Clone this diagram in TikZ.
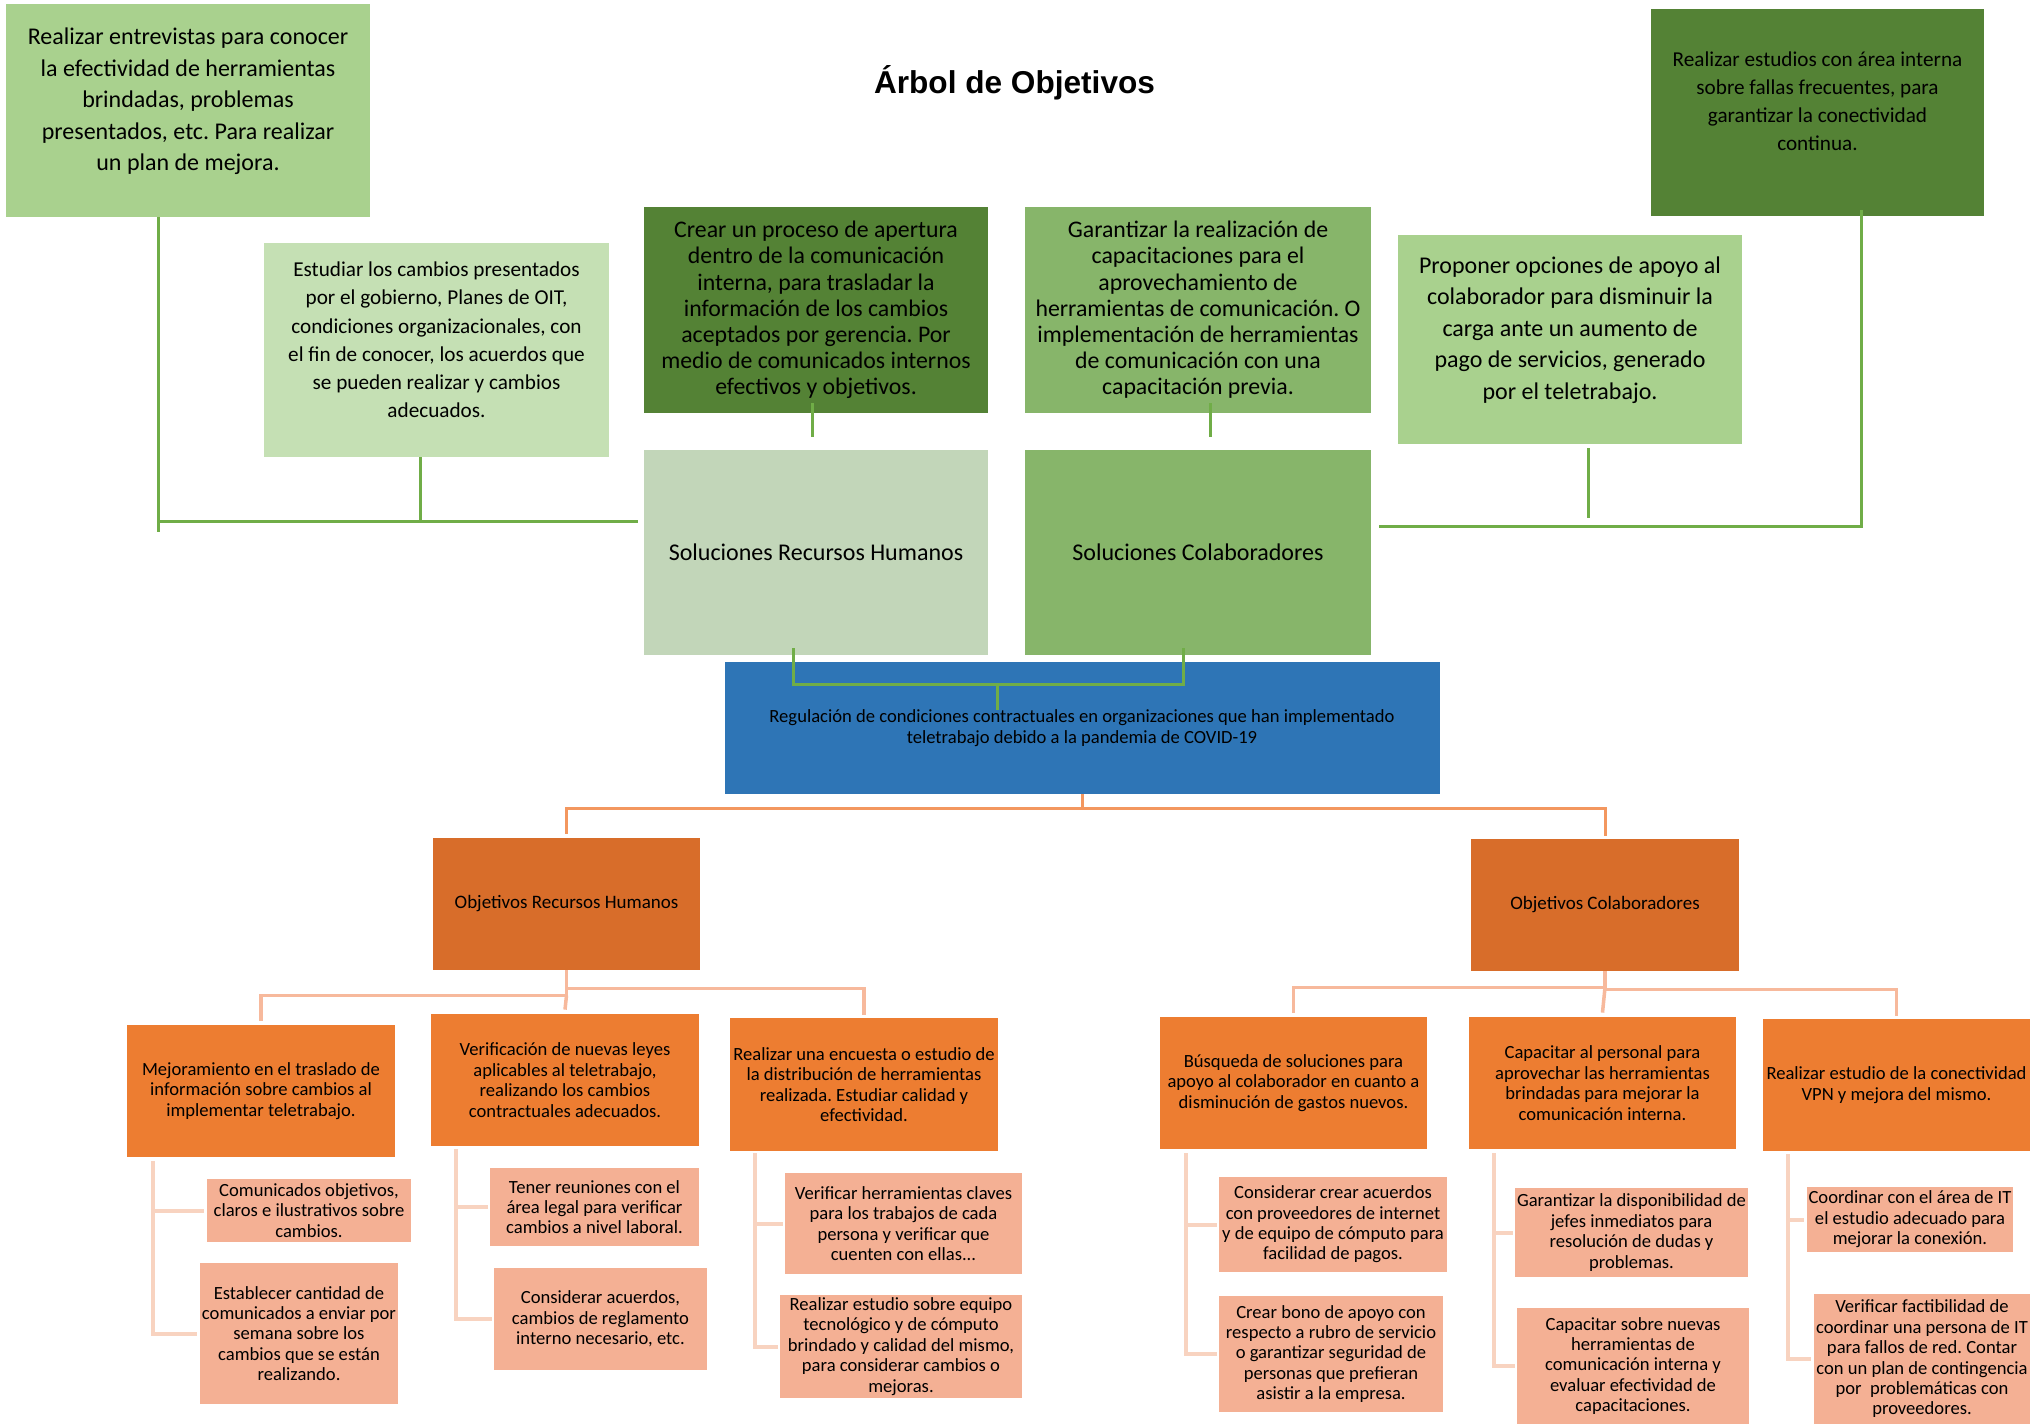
\documentclass[tikz,border=0pt]{standalone}
\usepackage{fontspec}
\setmainfont{Carlito}
\newfontfamily\titlefont{Liberation Sans}
\frenchspacing
\definecolor{leafLight}{HTML}{A9D18E}
\definecolor{leafPale}{HTML}{C5E0B4}
\definecolor{leafDark}{HTML}{548235}
\definecolor{leafMid}{HTML}{87B56A}
\definecolor{leafGrey}{HTML}{C2D6B9}
\definecolor{goalBlue}{HTML}{2E75B6}
\definecolor{objDark}{HTML}{D86D2A}
\definecolor{objMid}{HTML}{ED7D31}
\definecolor{objPale}{HTML}{F4B094}
\definecolor{lineGreen}{HTML}{70AD47}
\definecolor{lineTop}{HTML}{F3975F}
\definecolor{lineMid}{HTML}{F7B99C}
\definecolor{lineLow}{HTML}{F8D3C0}

\begin{document}
\begin{tikzpicture}[x=0.5pt,y=-0.5pt,
  box/.style={inner sep=0pt,align=center},
  bigtext/.style={box,font=\fontsize{12}{15.75}\selectfont},
  midtext/.style={box,font=\fontsize{10.6}{14.1}\selectfont},
  solidtext/.style={box,font=\fontsize{11.9}{13.1}\selectfont},
  smalltext/.style={box,font=\fontsize{9.3}{10.2}\selectfont},
  greenline/.style={draw=lineGreen,line width=1.5pt},
  topline/.style={draw=lineTop,line width=1.5pt},
  midline/.style={draw=lineMid,line width=1.75pt},
  lowline/.style={draw=lineLow,line width=2pt}]
\fill[white] (0,0) rectangle (2034,1426);
\useasboundingbox (0,0) rectangle (2034,1426);

\node[font=\titlefont\bfseries\fontsize{15.8}{19}\selectfont, anchor=base] (title) at (1014.5,93) {Árbol de Objetivos};

% soluciones (arriba)
\node[box, fill=leafLight, minimum width=182pt, minimum height=106.5pt] (objA) at (188,110.5) {};
\node[bigtext] (objAtext) at ([yshift=4.5pt]objA.center) {Realizar entrevistas para conocer\\la efectividad de herramientas\\brindadas, problemas\\presentados, etc. Para realizar\\un plan de mejora.};
\node[box, fill=leafDark, minimum width=166.5pt, minimum height=103.5pt] (objTR) at (1817.5,112.5) {};
\node[midtext] (objTRtext) at ([yshift=5.6pt]objTR.center) {Realizar estudios con área interna\\sobre fallas frecuentes, para\\garantizar la conectividad\\continua.};
\node[box, fill=leafPale, minimum width=172.5pt, minimum height=107pt] (objB) at (436.5,350) {};
\node[midtext] (objBtext) at ([yshift=5pt]objB.center) {Estudiar los cambios presentados\\por el gobierno, Planes de OIT,\\condiciones organizacionales, con\\el fin de conocer, los acuerdos que\\se pueden realizar y cambios\\adecuados.};
\node[solidtext, fill=leafDark, minimum width=172pt, minimum height=103pt] (objC) at (816,310) {Crear un proceso de apertura\\dentro de la comunicación\\interna, para trasladar la\\información de los cambios\\aceptados por gerencia. Por\\medio de comunicados internos\\efectivos y objetivos.};
\node[solidtext, fill=leafMid, minimum width=173pt, minimum height=103pt] (objD) at (1198,310) {Garantizar la realización de\\capacitaciones para el\\aprovechamiento de\\herramientas de comunicación. O\\implementación de herramientas\\de comunicación con una\\capacitación previa.};
\node[box, fill=leafLight, minimum width=172pt, minimum height=104.5pt] (objE) at (1570,339.5) {};
\node[bigtext] (objEtext) at ([yshift=4.75pt]objE.center) {Proponer opciones de apoyo al\\colaborador para disminuir la\\carga ante un aumento de\\pago de servicios, generado\\por el teletrabajo.};
\node[bigtext, fill=leafGrey, minimum width=172pt, minimum height=102.5pt] (solRH) at (816,552.5) {Soluciones Recursos Humanos};
\node[bigtext, fill=leafMid, minimum width=173pt, minimum height=102.5pt] (solCol) at (1198,552.5) {Soluciones Colaboradores};

% problema central
\node[smalltext, fill=goalBlue, minimum width=357.5pt, minimum height=66pt] (goal) at (1082,728) {Regulación de condiciones contractuales en organizaciones que han implementado\\teletrabajo debido a la pandemia de COVID-19};

% objetivos
\node[box, font=\fontsize{9.5}{10.4}\selectfont, fill=objDark, minimum width=133.5pt, minimum height=66pt] (objRH) at (566.5,904) {Objetivos Recursos Humanos};
\node[box, font=\fontsize{9.5}{10.4}\selectfont, fill=objDark, minimum width=134pt, minimum height=66pt] (objCol) at (1605,905) {Objetivos Colaboradores};

\node[smalltext, fill=objMid, minimum width=134pt, minimum height=66pt] (rh1) at (261,1091) {Mejoramiento en el traslado de\\información sobre cambios al\\implementar teletrabajo.};
\node[smalltext, fill=objMid, minimum width=134pt, minimum height=66pt] (rh2) at (565,1080) {Verificación de nuevas leyes\\aplicables al teletrabajo,\\realizando los cambios\\contractuales adecuados.};
\node[smalltext, fill=objMid, minimum width=134pt, minimum height=66.5pt] (rh3) at (864,1084.5) {Realizar una encuesta o estudio de\\la distribución de herramientas\\realizada. Estudiar calidad y\\efectividad.};
\node[smalltext, fill=objMid, minimum width=133.5pt, minimum height=66pt] (col1) at (1293.5,1083) {Búsqueda de soluciones para\\apoyo al colaborador en cuanto a\\disminución de gastos nuevos.};
\node[smalltext, fill=objMid, minimum width=133.5pt, minimum height=66pt] (col2) at (1602.5,1083) {Capacitar al personal para\\aprovechar las herramientas\\brindadas para mejorar la\\comunicación interna.};
\node[smalltext, fill=objMid, minimum width=133.5pt, minimum height=66pt] (col3) at (1896.5,1085) {Realizar estudio de la conectividad\\VPN y mejora del mismo.};

% acciones
\node[smalltext, fill=objPale, minimum width=102pt, minimum height=31.5pt] (rh1a) at (309,1210.5) {Comunicados objetivos,\\claros e ilustrativos sobre\\cambios.};
\node[smalltext, fill=objPale, minimum width=99pt, minimum height=70.5pt] (rh1b) at (299,1333.5) {Establecer cantidad de\\comunicados a enviar por\\semana sobre los\\cambios que se están\\realizando.};
\node[smalltext, fill=objPale, minimum width=104.5pt, minimum height=39pt] (rh2a) at (594.5,1207) {Tener reuniones con el\\área legal para verificar\\cambios a nivel laboral.};
\node[smalltext, fill=objPale, minimum width=106.5pt, minimum height=51pt] (rh2b) at (600.5,1319) {Considerar acuerdos,\\cambios de reglamento\\interno necesario, etc.};
\node[smalltext, fill=objPale, minimum width=118.5pt, minimum height=50.5pt] (rh3a) at (903.5,1223.5) {Verificar herramientas claves\\para los trabajos de cada\\persona y verificar que\\cuenten con ellas...};
\node[smalltext, fill=objPale, minimum width=121pt, minimum height=51.5pt] (rh3b) at (901,1346.5) {Realizar estudio sobre equipo\\tecnológico y de cómputo\\brindado y calidad del mismo,\\para considerar cambios o\\mejoras.};
\node[smalltext, fill=objPale, minimum width=114pt, minimum height=47.5pt] (col1a) at (1333,1224.5) {Considerar crear acuerdos\\con proveedores de internet\\y de equipo de cómputo para\\facilidad de pagos.};
\node[smalltext, fill=objPale, minimum width=112pt, minimum height=58pt] (col1b) at (1331,1354) {Crear bono de apoyo con\\respecto a rubro de servicio\\o garantizar seguridad de\\personas que prefieran\\asistir a la empresa.};
\node[smalltext, fill=objPale, minimum width=116.5pt, minimum height=44.5pt] (col2a) at (1631.5,1232.5) {Garantizar la disponibilidad de\\jefes inmediatos para\\resolución de dudas y\\problemas.};
\node[smalltext, fill=objPale, minimum width=116pt, minimum height=58pt] (col2b) at (1633,1366) {Capacitar sobre nuevas\\herramientas de\\comunicación interna y\\evaluar efectividad de\\capacitaciones.};
\node[smalltext, fill=objPale, minimum width=103pt, minimum height=32.5pt] (col3a) at (1910,1219.5) {Coordinar con el área de IT\\el estudio adecuado para\\mejorar la conexión.};
\node[smalltext, fill=objPale, minimum width=108pt, minimum height=65pt] (col3b) at (1922,1359) {Verificar factibilidad de\\coordinar una persona de IT\\para fallos de red. Contar\\con un plan de contingencia\\por\ \ problemáticas con\\proveedores.};

% lineas verdes
\coordinate (gL) at (158,521);
\coordinate (gR) at (1861,526);
\coordinate (gB) at (997,684);
\draw[greenline] (objA.south -| gL) -- ++(0,315);
\draw[greenline] (gL) -- ([xshift=-3pt]solRH.west |- gL);
\draw[greenline] ([xshift=-8pt]objB.south) -- ([xshift=-8pt]objB.south |- gL);
\draw[greenline] ([xshift=-2pt,yshift=5pt]objC.south) -- ([xshift=-2pt,yshift=6.5pt]solRH.north);
\draw[greenline] ([xshift=6pt,yshift=5pt]objD.south) -- ([xshift=6pt,yshift=6.5pt]solCol.north);
\draw[greenline] ([xshift=4pt]solCol.east |- gR) -- (gR);
\draw[greenline] ([yshift=3pt]objTR.south -| gR) -- ([yshift=-1pt]gR);
\draw[greenline] ([xshift=9pt,yshift=-2pt]objE.south) -- ++(0,70);
\draw[greenline] ([xshift=-11.5pt,yshift=3.5pt]solRH.south) |- (gB) -| ([xshift=-7.5pt,yshift=3.5pt]solCol.south);
\draw[greenline] (gB) -- ++(0,26);

% lineas naranjas
\draw[topline] (goal.south) -- ++(0,14) -| ([yshift=2pt]objRH.north);
\draw[topline] (goal.south) ++(0,14) -| ([yshift=1.5pt]objCol.north);
\draw[midline] (objRH.south) -- ++(0,25) -| ([yshift=2pt]rh1.north);
\draw[midline] (objRH.south) ++(0,18) -| ([yshift=1.5pt]rh3.north);
\draw[midline] (objRH.south) ++(0,25) -- ([yshift=2pt]rh2.north);
\draw[midline] (objCol.south) -- ++(0,16) -| ([yshift=2pt]col1.north);
\draw[midline] (objCol.south) ++(0,18) -| ([yshift=1.5pt]col3.north);
\draw[midline] (objCol.south) ++(0,16) -- ([yshift=2pt]col2.north);

% llaves de acciones
\coordinate (rh1v) at (153,1161);
\coordinate (rh2v) at (456,1149);
\coordinate (rh3v) at (754.5,1153);
\coordinate (col1v) at (1185.5,1153);
\coordinate (col2v) at (1494,1153);
\coordinate (col3v) at (1788,1154);
\draw[lowline] (rh1v) |- ([xshift=-1.5pt]rh1b.west);
\draw[lowline] (rh1v |- rh1a.west) -- ([xshift=-1.5pt]rh1a.west);
\draw[lowline] (rh2v) |- ([xshift=-1pt]rh2b.west);
\draw[lowline] (rh2v |- rh2a.west) -- ([xshift=-1pt]rh2a.west);
\draw[lowline] (rh3v) |- ([xshift=-1pt]rh3b.west);
\draw[lowline] (rh3v |- rh3a.west) -- ([xshift=-1pt]rh3a.west);
\draw[lowline] (col1v) |- ([xshift=-1pt]col1b.west);
\draw[lowline] (col1v |- col1a.west) -- ([xshift=-1pt]col1a.west);
\draw[lowline] (col2v) |- ([xshift=-1pt]col2b.west);
\draw[lowline] (col2v |- col2a.west) -- ([xshift=-1pt]col2a.west);
\draw[lowline] (col3v) |- ([xshift=-1.5pt]col3b.west);
\draw[lowline] (col3v |- col3a.west) -- ([xshift=-1.5pt]col3a.west);
\end{tikzpicture}
\end{document}
